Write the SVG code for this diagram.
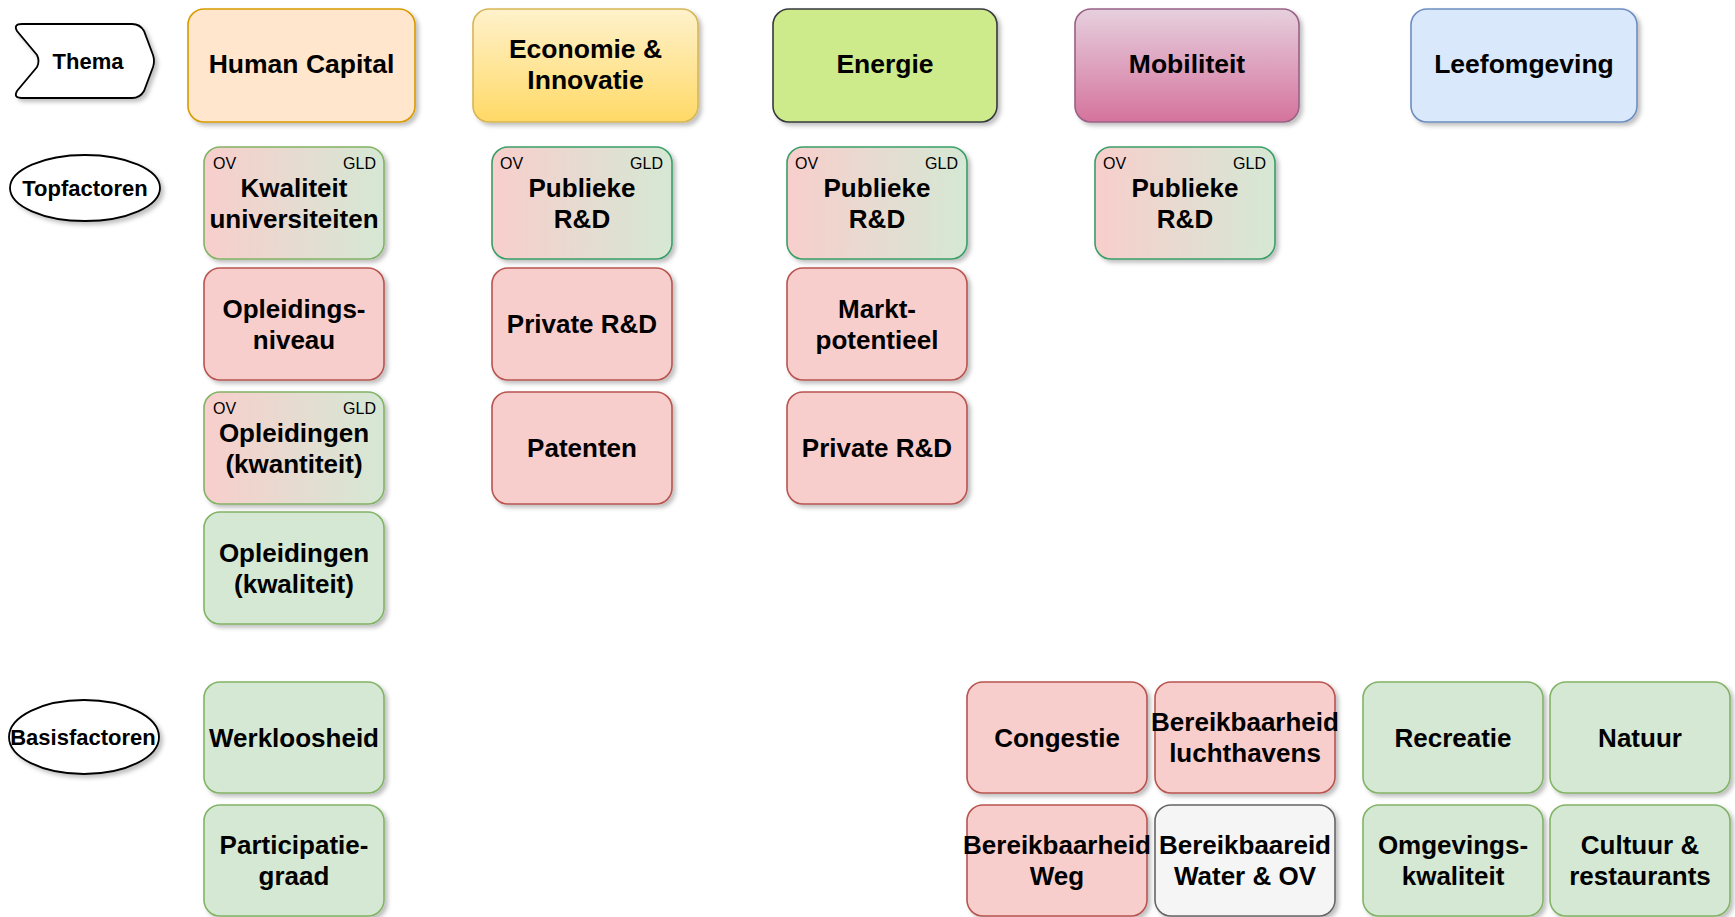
<svg xmlns="http://www.w3.org/2000/svg" width="1735" height="917" viewBox="0 0 1735 917">
<defs>
<filter id="sh" x="-10%" y="-10%" width="130%" height="130%">
<feDropShadow dx="3" dy="3" stdDeviation="2" flood-color="#000" flood-opacity="0.25"/>
</filter>
<linearGradient id="gEco" x1="0" y1="0" x2="0" y2="1">
<stop offset="0" stop-color="#fff2cc"/><stop offset="1" stop-color="#ffd966"/>
</linearGradient>
<linearGradient id="gMob" x1="0" y1="0" x2="0" y2="1">
<stop offset="0" stop-color="#e6d0de"/><stop offset="1" stop-color="#d5739d"/>
</linearGradient>
<linearGradient id="gRG" x1="0" y1="0" x2="1" y2="0">
<stop offset="0" stop-color="#f8cecc"/><stop offset="1" stop-color="#d5e8d4"/>
</linearGradient>
</defs>
<style>
text{font-family:"Liberation Sans",Arial,sans-serif;fill:#000}
.t{font-size:26px;font-weight:bold;text-anchor:middle}
.th{font-size:26.5px;font-weight:bold;text-anchor:middle}
.lb{font-size:22px;font-weight:bold;text-anchor:middle}
.sm{font-size:16px}
.box{stroke-width:1.6;filter:url(#sh)}
.red{fill:#f8cecc;stroke:#b85450}
.grn{fill:#d5e8d4;stroke:#82b366}
.rg{fill:url(#gRG);stroke:#82b366}
.rg2{fill:url(#gRG);stroke:#3a9e68}
.gry{fill:#f5f5f5;stroke:#666666}
.lab{fill:#fff;stroke:#000;stroke-width:1.8;filter:url(#sh)}
</style>
<g id="connectors"></g>

<g id="thema">
<path class="lab" d="M 22,24 L 132,24 Q 140,24 144,31 L 153,55 Q 155,61 153,67 L 144,91 Q 140,98 132,98 L 22,98 Q 13,98 17,91 L 37,67 Q 40,61 37,55 L 17,31 Q 13,24 22,24 Z"/>
<text class="lb" x="88" y="69">Thema</text>
</g>
<g id="topfactoren">
<ellipse class="lab" cx="85" cy="188" rx="75" ry="33"/>
<text class="lb" x="85" y="196">Topfactoren</text>
</g>
<g id="basisfactoren">
<ellipse class="lab" cx="84" cy="737" rx="75" ry="37"/>
<text class="lb" x="83" y="745">Basisfactoren</text>
</g>

<g id="human-capital">
<rect class="box" x="188" y="9" width="227" height="113" rx="16" fill="#ffe6cc" stroke="#d79b00"/>
<text class="th" x="301.5" y="72.5">Human Capital</text>
</g>
<g id="economie">
<rect class="box" x="473" y="9" width="225" height="113" rx="16" fill="url(#gEco)" stroke="#d6b656"/>
<text class="th" x="585.5" y="57.5">Economie &amp;</text>
<text class="th" x="585.5" y="88.5">Innovatie</text>
</g>
<g id="energie">
<rect class="box" x="773" y="9" width="224" height="113" rx="16" fill="#cdeb8b" stroke="#36393d"/>
<text class="th" x="885" y="72.5">Energie</text>
</g>
<g id="mobiliteit">
<rect class="box" x="1075" y="9" width="224" height="113" rx="16" fill="url(#gMob)" stroke="#996185"/>
<text class="th" x="1187" y="72.5">Mobiliteit</text>
</g>
<g id="leefomgeving">
<rect class="box" x="1411" y="9" width="226" height="113" rx="16" fill="#dae8fc" stroke="#6c8ebf"/>
<text class="th" x="1524" y="72.5">Leefomgeving</text>
</g>

<g id="kwaliteit-universiteiten">
<rect class="box rg" x="204" y="147" width="180" height="112" rx="16"/>
<text class="sm" x="213" y="169">OV</text>
<text class="sm" x="376" y="169" text-anchor="end">GLD</text>
<text class="t" x="294" y="196.5">Kwaliteit</text>
<text class="t" x="294" y="227.5">universiteiten</text>
</g>
<g id="opleidingsniveau">
<rect class="box red" x="204" y="268" width="180" height="112" rx="16"/>
<text class="t" x="294" y="317.5">Opleidings-</text>
<text class="t" x="294" y="348.5">niveau</text>
</g>
<g id="opleidingen-kwantiteit">
<rect class="box rg" x="204" y="392" width="180" height="112" rx="16"/>
<text class="sm" x="213" y="414">OV</text>
<text class="sm" x="376" y="414" text-anchor="end">GLD</text>
<text class="t" x="294" y="442">Opleidingen</text>
<text class="t" x="294" y="473">(kwantiteit)</text>
</g>
<g id="opleidingen-kwaliteit">
<rect class="box grn" x="204" y="512" width="180" height="112" rx="16"/>
<text class="t" x="294" y="561.5">Opleidingen</text>
<text class="t" x="294" y="592.5">(kwaliteit)</text>
</g>

<g id="eco-publieke-rd">
<rect class="box rg2" x="492" y="147" width="180" height="112" rx="16"/>
<text class="sm" x="500" y="169">OV</text>
<text class="sm" x="663" y="169" text-anchor="end">GLD</text>
<text class="t" x="582" y="196.5">Publieke</text>
<text class="t" x="582" y="227.5">R&amp;D</text>
</g>
<g id="eco-private-rd">
<rect class="box red" x="492" y="268" width="180" height="112" rx="16"/>
<text class="t" x="582" y="333">Private R&amp;D</text>
</g>
<g id="patenten">
<rect class="box red" x="492" y="392" width="180" height="112" rx="16"/>
<text class="t" x="582" y="457">Patenten</text>
</g>

<g id="energie-publieke-rd">
<rect class="box rg2" x="787" y="147" width="180" height="112" rx="16"/>
<text class="sm" x="795" y="169">OV</text>
<text class="sm" x="958" y="169" text-anchor="end">GLD</text>
<text class="t" x="877" y="196.5">Publieke</text>
<text class="t" x="877" y="227.5">R&amp;D</text>
</g>
<g id="marktpotentieel">
<rect class="box red" x="787" y="268" width="180" height="112" rx="16"/>
<text class="t" x="877" y="317.5">Markt-</text>
<text class="t" x="877" y="348.5">potentieel</text>
</g>
<g id="energie-private-rd">
<rect class="box red" x="787" y="392" width="180" height="112" rx="16"/>
<text class="t" x="877" y="457">Private R&amp;D</text>
</g>

<g id="mob-publieke-rd">
<rect class="box rg2" x="1095" y="147" width="180" height="112" rx="16"/>
<text class="sm" x="1103" y="169">OV</text>
<text class="sm" x="1266" y="169" text-anchor="end">GLD</text>
<text class="t" x="1185" y="196.5">Publieke</text>
<text class="t" x="1185" y="227.5">R&amp;D</text>
</g>

<g id="werkloosheid">
<rect class="box grn" x="204" y="682" width="180" height="111" rx="16"/>
<text class="t" x="294" y="746.5">Werkloosheid</text>
</g>
<g id="participatiegraad">
<rect class="box grn" x="204" y="805" width="180" height="111" rx="16"/>
<text class="t" x="294" y="854">Participatie-</text>
<text class="t" x="294" y="885">graad</text>
</g>

<g id="congestie">
<rect class="box red" x="967" y="682" width="180" height="111" rx="16"/>
<text class="t" x="1057" y="746.5">Congestie</text>
</g>
<g id="bereikbaarheid-luchthavens">
<rect class="box red" x="1155" y="682" width="180" height="111" rx="16"/>
<text class="t" x="1245" y="731">Bereikbaarheid</text>
<text class="t" x="1245" y="762">luchthavens</text>
</g>
<g id="bereikbaarheid-weg">
<rect class="box red" x="967" y="805" width="180" height="111" rx="16"/>
<text class="t" x="1057" y="854">Bereikbaarheid</text>
<text class="t" x="1057" y="885">Weg</text>
</g>
<g id="bereikbaareid-water-ov">
<rect class="box gry" x="1155" y="805" width="180" height="111" rx="16"/>
<text class="t" x="1245" y="854">Bereikbaareid</text>
<text class="t" x="1245" y="885">Water &amp; OV</text>
</g>

<g id="recreatie">
<rect class="box grn" x="1363" y="682" width="180" height="111" rx="16"/>
<text class="t" x="1453" y="746.5">Recreatie</text>
</g>
<g id="natuur">
<rect class="box grn" x="1550" y="682" width="180" height="111" rx="16"/>
<text class="t" x="1640" y="746.5">Natuur</text>
</g>
<g id="omgevingskwaliteit">
<rect class="box grn" x="1363" y="805" width="180" height="111" rx="16"/>
<text class="t" x="1453" y="854">Omgevings-</text>
<text class="t" x="1453" y="885">kwaliteit</text>
</g>
<g id="cultuur-restaurants">
<rect class="box grn" x="1550" y="805" width="180" height="111" rx="16"/>
<text class="t" x="1640" y="854">Cultuur &amp;</text>
<text class="t" x="1640" y="885">restaurants</text>
</g>
</svg>
